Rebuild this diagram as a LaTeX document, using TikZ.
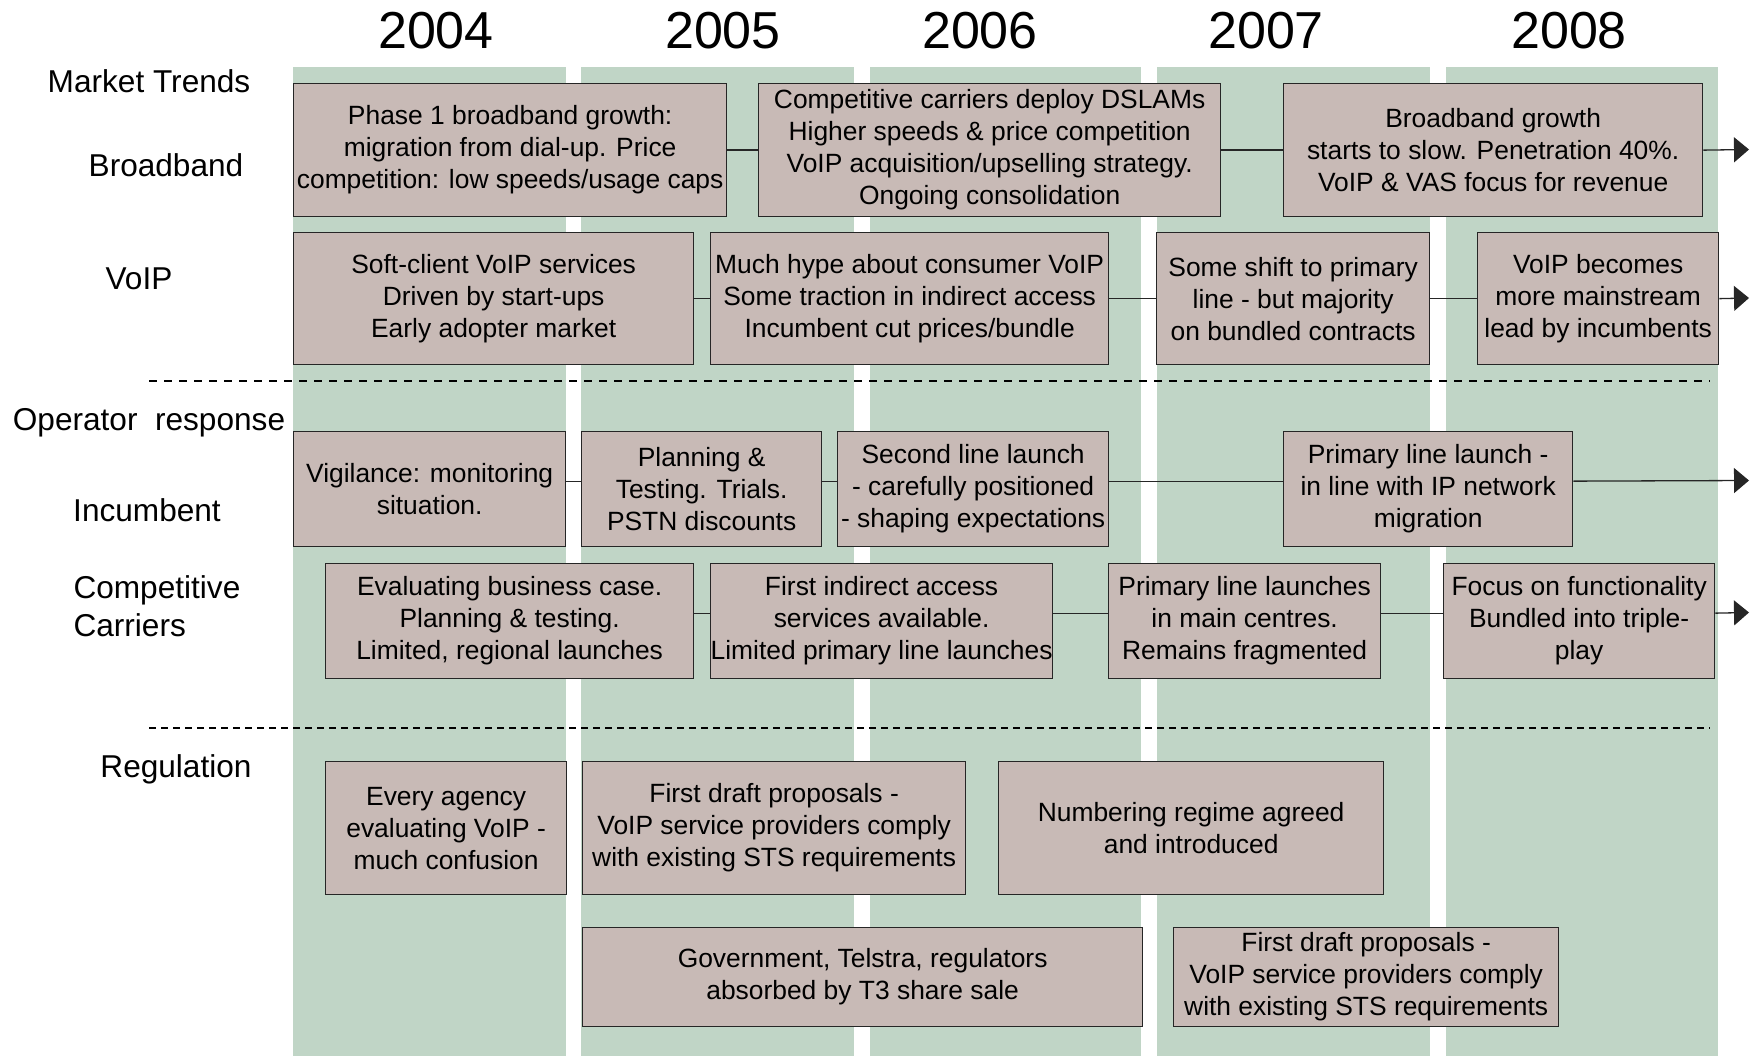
\documentclass[tikz,border=0pt]{standalone}
\usepackage{fontspec}
\setmainfont{Liberation Sans}
\usepackage{tikz}
\usetikzlibrary{arrows.meta}

\definecolor{colgreen}{HTML}{C0D5C6}
\definecolor{boxfill}{HTML}{C8BAB6}

\begin{document}
\begin{tikzpicture}[x=1pt,y=-1pt,
        evbox/.style={draw=black!85, fill=boxfill, line width=1.3pt, anchor=north west,
            inner sep=0pt, align=center, font=\fontsize{26.4}{32}\selectfont},
        rowlabel/.style={font=\fontsize{31.6}{38}\selectfont},
        yearlabel/.style={font=\fontsize{52}{60}\selectfont},
        link/.style={line width=1.3pt, draw=black!85},
        tolater/.style={link, -{Triangle[length=15pt,width=25pt]}}]
    \useasboundingbox (0,0) rectangle (1753,1056);
    % year columns
    \foreach \xa/\xb in {293/566, 581/854, 870/1141, 1157/1430, 1446/1718}
        \fill[colgreen] (\xa,67) rectangle (\xb,1056);
    \node[yearlabel] (y2004) at (436,31) {2004};
    \node[yearlabel] (y2005) at (723,31) {2005};
    \node[yearlabel] (y2006) at (980,31) {2006};
    \node[yearlabel] (y2007) at (1266,31) {2007};
    \node[yearlabel] (y2008) at (1569,31) {2008};
    % row labels
    \node[rowlabel] (trends) at (149,81) {Market Trends};
    \node[rowlabel] (bband) at (166,165) {Broadband};
    \node[rowlabel] (voip) at (139,279) {VoIP};
    \node[rowlabel] (oper) at (149,423) {Operator~ response};
    \node[rowlabel] (incumb) at (147,510) {Incumbent};
    \node[rowlabel, anchor=west, align=left] (carriers) at (70,606) {Competitive\\Carriers};
    \node[rowlabel] (regul) at (176,769) {Regulation};
    \draw[line width=1.5pt, dash pattern=on 8pt off 7pt] (149,381) -- (1710,381);
    \draw[line width=1.5pt, dash pattern=on 7pt off 5pt] (149,728) -- (1710,728);
    % broadband
    \node[evbox, minimum width=433pt, minimum height=133pt] (bb1) at (293,83)
        {Phase 1 broadband growth:\\migration from dial-up. Price\\competition: low speeds/usage caps};
    \node[evbox, minimum width=462pt, minimum height=133pt] (bb2) at (758,83)
        {Competitive carriers deploy DSLAMs\\Higher speeds \& price competition\\VoIP acquisition/upselling strategy.\\Ongoing consolidation};
    \node[evbox, minimum width=419pt, minimum height=133pt] (bb3) at (1283,83)
        {Broadband growth\\starts to slow. Penetration 40\%.\\VoIP \& VAS focus for revenue};
    \coordinate (bbend) at (1749,149.5);
    \draw[link] (bb1.east) -- (bb2.west);
    \draw[link] (bb2.east) -- (bb3.west);
    \draw[tolater] (bb3.east) -- (bbend);
    % voip
    \node[evbox, minimum width=400pt, minimum height=132pt] (vo1) at (293,232)
        {Soft-client VoIP services\\Driven by start-ups\\Early adopter market};
    \node[evbox, minimum width=398pt, minimum height=132pt] (vo2) at (710,232)
        {Much hype about consumer VoIP\\Some traction in indirect access\\Incumbent cut prices/bundle};
    \node[evbox, minimum width=273pt, minimum height=132pt] (vo3) at (1156,232)
        {Some shift to primary\\line - but majority\\on bundled contracts};
    \node[evbox, minimum width=241pt, minimum height=132pt] (vo4) at (1477,232)
        {VoIP becomes\\more mainstream\\lead by incumbents};
    \coordinate (voend) at (1749,298);
    \draw[link] (vo1.east) -- (vo2.west);
    \draw[link] (vo2.east) -- (vo3.west);
    \draw[link] (vo3.east) -- (vo4.west);
    \draw[tolater] (vo4.east) -- (voend);
    % incumbent
    \node[evbox, minimum width=272pt, minimum height=115pt] (in1) at (293,431)
        {Vigilance: monitoring\\situation.};
    \node[evbox, minimum width=240pt, minimum height=115pt] (in2) at (581,431)
        {Planning \&\\Testing. Trials.\\PSTN discounts};
    \node[evbox, minimum width=271pt, minimum height=115pt] (in3) at (837,431)
        {Second line launch\\- carefully positioned\\- shaping expectations};
    \node[evbox, minimum width=289pt, minimum height=115pt] (in4) at (1283,431)
        {Primary line launch -\\in line with IP network\\migration};
    \coordinate (inend) at (1749,480.5);
    \draw[link] ([yshift=8pt]in1.east) -- ([yshift=8pt]in2.west);
    \draw[link] ([yshift=8pt]in2.east) -- ([yshift=8pt]in3.west);
    \draw[link] ([yshift=8pt]in3.east) -- ([yshift=8pt]in4.west);
    \draw[tolater] ([yshift=8pt]in4.east) -- (inend);
    % competitive carriers
    \node[evbox, minimum width=368pt, minimum height=115pt] (cc1) at (325,563)
        {Evaluating business case.\\Planning \& testing.\\Limited, regional launches};
    \node[evbox, minimum width=335pt, minimum height=115pt] (cc2) at (710,563)
        {First indirect access\\services available.\\Limited primary line launches};
    \node[evbox, minimum width=272pt, minimum height=115pt] (cc3) at (1108,563)
        {Primary line launches\\in main centres.\\Remains fragmented};
    \node[evbox, minimum width=271pt, minimum height=115pt] (cc4) at (1443,563)
        {Focus on functionality\\Bundled into triple-\\play};
    \coordinate (ccend) at (1749,612.5);
    \draw[link] ([yshift=8pt]cc1.east) -- ([yshift=8pt]cc2.west);
    \draw[link] ([yshift=8pt]cc2.east) -- ([yshift=8pt]cc3.west);
    \draw[link] ([yshift=8pt]cc3.east) -- ([yshift=8pt]cc4.west);
    \draw[tolater] ([yshift=8pt]cc4.east) -- (ccend);
    % regulation
    \node[evbox, minimum width=241pt, minimum height=133pt] (rg1) at (325,761)
        {Every agency\\evaluating VoIP -\\much confusion};
    \node[evbox, minimum width=383pt, minimum height=133pt] (rg2) at (582,761)
        {First draft proposals -\\VoIP service providers comply\\with existing STS requirements};
    \node[evbox, minimum width=385pt, minimum height=133pt] (rg3) at (998,761)
        {Numbering regime agreed\\and introduced};
    \node[evbox, minimum width=560pt, minimum height=99pt] (rg4) at (582,927)
        {Government, Telstra, regulators\\absorbed by T3 share sale};
    \node[evbox, minimum width=385pt, minimum height=99pt] (rg5) at (1173,927)
        {First draft proposals -\\VoIP service providers comply\\with existing STS requirements};
\end{tikzpicture}
\end{document}
